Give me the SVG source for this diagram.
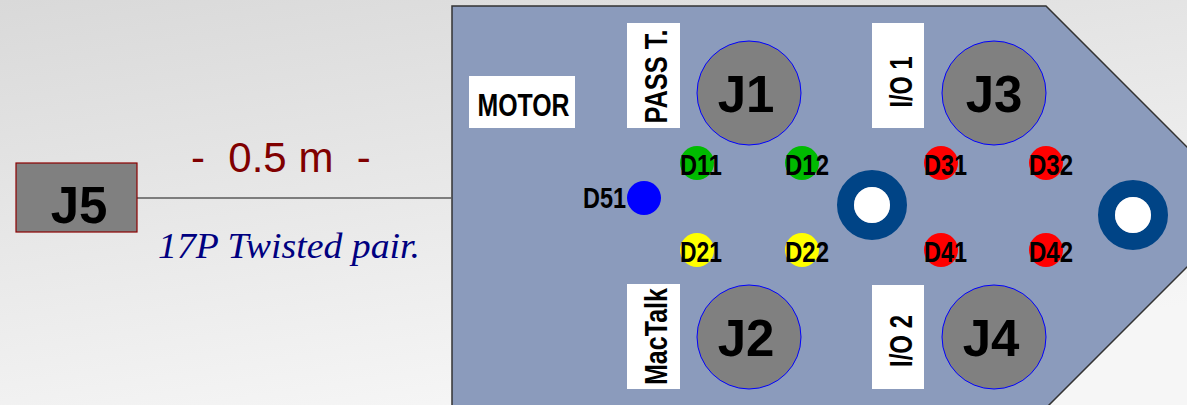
<svg xmlns="http://www.w3.org/2000/svg" width="1187" height="405" viewBox="0 0 1187 405">
<defs>
<linearGradient id="bg" x1="0" y1="0" x2="0.45" y2="1">
<stop offset="0" stop-color="#d9d9d9"/>
<stop offset="1" stop-color="#f6f6f6"/>
</linearGradient>
</defs>
<style>
.jc{fill:#808080;stroke:#0000ff;stroke-width:1}
.jt{font-family:"Liberation Sans",Arial,sans-serif;font-weight:bold;font-size:51px;fill:#000;text-anchor:middle}
.lbl{fill:#fff}
.lt{font-family:"Liberation Sans Narrow","Liberation Sans",Arial,sans-serif;font-weight:bold;font-size:31px;fill:#000;text-anchor:middle}
.dt{font-family:"Liberation Sans Narrow","Liberation Sans",Arial,sans-serif;font-weight:bold;font-size:29px;fill:#000}
.ring{fill:none;stroke:#004486;stroke-width:17}
.hole{fill:#fff}
.g{fill:#00bb00}.y{fill:#ffff00}.r{fill:#ff0000}.b{fill:#0000ff}
</style>
<rect width="1187" height="405" fill="url(#bg)"/>
<g id="board">
<path d="M452,6 L1046,6 L1247,207 L1046,408 L452,408 Z" fill="#8b9bbc" stroke="#333" stroke-width="1.5"/>
</g>
<g id="connectors">
<line x1="137" y1="198" x2="452" y2="198" stroke="#5a5a5a" stroke-width="1.6"/>
</g>
<g id="cable-labels">
<text x="191" y="172" font-family="Liberation Sans,Arial,sans-serif" font-size="42" fill="#800000" style="white-space:pre">-  0.5 m  -</text>
<text x="158" y="258" font-family="Liberation Serif,Times New Roman,serif" font-style="italic" font-size="35" fill="#000080" textLength="262" lengthAdjust="spacingAndGlyphs">17P Twisted pair.</text>
</g>
<g id="J5">
<rect x="16" y="163" width="121" height="69" fill="#808080" stroke="#8b0000" stroke-width="1.2"/>
<text class="jt" x="79" y="223">J5</text>
</g>
<g id="motor">
<rect class="lbl" x="469" y="76" width="106" height="52"/>
<text class="lt" x="523.5" y="116" textLength="92" lengthAdjust="spacingAndGlyphs">MOTOR</text>
</g>
<g id="pass">
<rect class="lbl" x="627" y="23" width="53" height="105"/>
<text class="lt" transform="translate(667,76.5) rotate(-90)" textLength="94" lengthAdjust="spacingAndGlyphs">PASS T.</text>
</g>
<g id="io1">
<rect class="lbl" x="872" y="23" width="52" height="105"/>
<text class="lt" transform="translate(912,82) rotate(-90)" textLength="51" lengthAdjust="spacingAndGlyphs">I/O 1</text>
</g>
<g id="mactalk">
<rect class="lbl" x="627" y="284" width="53" height="105"/>
<text class="lt" transform="translate(667,336.5) rotate(-90)" textLength="97" lengthAdjust="spacingAndGlyphs">MacTalk</text>
</g>
<g id="io2">
<rect class="lbl" x="872" y="285" width="52" height="104"/>
<text class="lt" transform="translate(912,341) rotate(-90)" textLength="52" lengthAdjust="spacingAndGlyphs">I/O 2</text>
</g>
<g id="J1">
<circle class="jc" cx="749" cy="93" r="52"/>
<text class="jt" x="746" y="112">J1</text>
</g>
<g id="J3">
<circle class="jc" cx="994" cy="93" r="52"/>
<text class="jt" x="994" y="112">J3</text>
</g>
<g id="J2">
<circle class="jc" cx="749" cy="337" r="52"/>
<text class="jt" x="746" y="356">J2</text>
</g>
<g id="J4">
<circle class="jc" cx="994" cy="337" r="52"/>
<text class="jt" x="991" y="356">J4</text>
</g>
<g id="ring-left">
<circle class="ring" cx="872" cy="205" r="26.5"/>
<circle class="hole" cx="872" cy="205" r="18"/>
</g>
<g id="ring-right">
<circle class="ring" cx="1133" cy="215" r="26.5"/>
<circle class="hole" cx="1133" cy="215" r="18"/>
</g>
<g id="D51">
<circle class="b" cx="644" cy="198" r="17"/>
<text class="dt" x="583" y="208" textLength="43" lengthAdjust="spacingAndGlyphs">D51</text>
</g>
<g id="D11">
<circle class="g" cx="697" cy="163" r="17"/>
<text class="dt" x="680" y="175" textLength="42" lengthAdjust="spacingAndGlyphs">D11</text>
</g>
<g id="D12">
<circle class="g" cx="802" cy="163" r="17"/>
<text class="dt" x="785" y="175" textLength="44" lengthAdjust="spacingAndGlyphs">D12</text>
</g>
<g id="D21">
<circle class="y" cx="697" cy="250" r="17"/>
<text class="dt" x="680" y="262" textLength="42" lengthAdjust="spacingAndGlyphs">D21</text>
</g>
<g id="D22">
<circle class="y" cx="802" cy="250" r="17"/>
<text class="dt" x="785" y="262" textLength="44" lengthAdjust="spacingAndGlyphs">D22</text>
</g>
<g id="D31">
<circle class="r" cx="941" cy="163" r="17"/>
<text class="dt" x="924" y="175" textLength="43" lengthAdjust="spacingAndGlyphs">D31</text>
</g>
<g id="D32">
<circle class="r" cx="1046" cy="163" r="17"/>
<text class="dt" x="1029" y="175" textLength="44" lengthAdjust="spacingAndGlyphs">D32</text>
</g>
<g id="D41">
<circle class="r" cx="941" cy="250" r="17"/>
<text class="dt" x="924" y="262" textLength="43" lengthAdjust="spacingAndGlyphs">D41</text>
</g>
<g id="D42">
<circle class="r" cx="1046" cy="250" r="17"/>
<text class="dt" x="1029" y="262" textLength="44" lengthAdjust="spacingAndGlyphs">D42</text>
</g>
</svg>
